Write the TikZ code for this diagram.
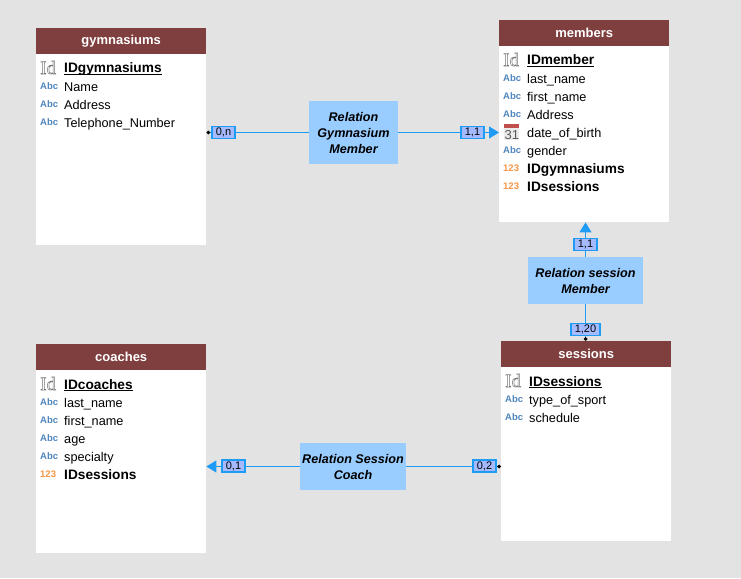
\documentclass[tikz,border=0pt]{standalone}
\usepackage{fontspec}
\setmainfont{Liberation Sans}
\newfontfamily\iconserif{Liberation Serif}
\usetikzlibrary{arrows.meta}
\definecolor{pagegrey}{HTML}{E3E3E3}
\definecolor{headred}{HTML}{7F3F3F}
\definecolor{relblue}{HTML}{99CCFF}
\definecolor{linkblue}{HTML}{1E9BF5}
\definecolor{cardblue}{HTML}{A6BBFF}
\definecolor{abcblue}{HTML}{4F86BD}
\definecolor{numorange}{HTML}{F79646}
\definecolor{calred}{HTML}{C0504D}
\newcommand{\abcicon}{\textcolor{abcblue}{\fontsize{9.5}{10}\selectfont\bfseries Abc}}
\newcommand{\numicon}{\textcolor{numorange}{\fontsize{9.5}{10}\selectfont\bfseries 123}}
\newcommand{\idicon}{\textcolor{black!55}{\fontsize{19}{19}\selectfont\iconserif\special{pdf:code q 1 Tr 0.5 w}Id\special{pdf:code Q}}}
\newcommand{\calicon}{\textcolor{black!65}{\fontsize{13}{13}\selectfont 31}}
\newcommand{\keyname}[1]{\setbox0\hbox{#1}\rlap{\rule[-2pt]{\wd0}{1pt}}\box0}
\begin{document}
\begin{tikzpicture}[
  x=1pt, y=-1pt,
  tablebox/.style={fill=white, anchor=north west, minimum width=170, inner sep=0},
  headbox/.style={fill=headred, text=white, anchor=north, minimum width=170, minimum height=26, inner sep=0, font=\fontsize{13}{15}\selectfont\bfseries},
  rowtext/.style={anchor=base west, inner sep=0, font=\fontsize{12.7}{16}\selectfont},
  keytext/.style={rowtext, font=\fontsize{13.7}{16}\selectfont\bfseries},
  rowicon/.style={anchor=base west, inner sep=0},
  relbox/.style={fill=relblue, align=center, inner sep=0, font=\fontsize{12.6}{16}\selectfont\bfseries\itshape},
  card/.style={draw=linkblue, fill=cardblue, line width=1.2pt, minimum height=12, inner sep=0, minimum width=23, font=\fontsize{11}{12}\selectfont},
  link/.style={draw=linkblue, line width=1.2pt},
  >={Triangle[length=10pt, width=12pt]},
  startdot/.style={{Diamond[length=4pt, width=4pt, black]}-}
]
  \path[use as bounding box, fill=pagegrey] (0,0) rectangle (741,578);

  % tables
  \node[tablebox, minimum height=217] (gymnasiums) at (36,28) {};
  \node[headbox] (gymnasiumshead) at (gymnasiums.north) {gymnasiums};
  \node[tablebox, minimum height=202] (members) at (499,20) {};
  \node[headbox] (membershead) at (members.north) {members};
  \node[tablebox, minimum height=200] (sessions) at (501,341) {};
  \node[headbox] (sessionshead) at (sessions.north) {sessions};
  \node[tablebox, minimum height=209] (coaches) at (36,344) {};
  \node[headbox] (coacheshead) at (coaches.north) {coaches};

  % fields
  \node[rowicon] (gymicon0) at (40,74) {\idicon};
  \node[keytext] (gymrow0) at (64,73) {\keyname{IDgymnasiums}};
  \foreach \i/\y/\txt in {1/91/Name, 2/109/Address, 3/127/Telephone\_Number} {
    \node[rowicon] (gymicon\i) at (40,\y-1.5) {\abcicon};
    \node[rowtext] (gymrow\i) at (64,\y) {\txt};
  }

  \node[rowicon] (memicon0) at (503,66) {\idicon};
  \node[keytext] (memrow0) at (527,65) {\keyname{IDmember}};
  \foreach \i/\y/\txt in {1/83/last\_name, 2/101/first\_name, 3/119/Address, 5/155/gender} {
    \node[rowicon] (memicon\i) at (503,\y-1.5) {\abcicon};
    \node[rowtext] (memrow\i) at (527,\y) {\txt};
  }
  \fill[black!8] (504,124) rectangle (519,140);
  \fill[calred] (504,124) rectangle (519,128);
  \node[rowicon] (memicon4) at (504.5,139) {\calicon};
  \node[rowtext] (memrow4) at (527,137) {date\_of\_birth};
  \foreach \i/\y/\txt in {6/173/IDgymnasiums, 7/191/IDsessions} {
    \node[rowicon] (memicon\i) at (503,\y-1.5) {\numicon};
    \node[keytext] (memrow\i) at (527,\y) {\txt};
  }

  \node[rowicon] (sesicon0) at (505,387) {\idicon};
  \node[keytext] (sesrow0) at (529,386) {\keyname{IDsessions}};
  \foreach \i/\y/\txt in {1/404/type\_of\_sport, 2/422/schedule} {
    \node[rowicon] (sesicon\i) at (505,\y-1.5) {\abcicon};
    \node[rowtext] (sesrow\i) at (529,\y) {\txt};
  }

  \node[rowicon] (coaicon0) at (40,390) {\idicon};
  \node[keytext] (coarow0) at (64,389) {\keyname{IDcoaches}};
  \foreach \i/\y/\txt in {1/407/last\_name, 2/425/first\_name, 3/443/age, 4/461/specialty} {
    \node[rowicon] (coaicon\i) at (40,\y-1.5) {\abcicon};
    \node[rowtext] (coarow\i) at (64,\y) {\txt};
  }
  \node[rowicon] (coaicon5) at (40,477.5) {\numicon};
  \node[keytext] (coarow5) at (64,479) {IDsessions};

  % relations
  \node[relbox, minimum width=89, minimum height=63] (relgym) at (353.5,132.5) {Relation\\Gymnasium\\Member};
  \node[relbox, minimum width=115, minimum height=47] (relsesmem) at (585.5,280.5) {Relation session\\Member};
  \node[relbox, minimum width=106, minimum height=47] (relsescoach) at (353,466.5) {Relation Session\\Coach};

  % links
  \draw[link, startdot] (gymnasiums.east |- relgym) -- (relgym);
  \draw[link, ->] (relgym) -- (members.west |- relgym);
  \draw[link, ->] (relsesmem) -- (relsesmem |- members.south);
  \draw[link, startdot] (relsesmem |- sessions.north) -- (relsesmem);
  \draw[link, ->] (relsescoach) -- (coaches.east |- relsescoach);
  \draw[link, startdot] (sessions.west |- relsescoach) -- (relsescoach);

  % cardinalities
  \node[card] (cardgym) at (223.5,132.5) {0,n};
  \node[card] (cardmem) at (472.5,132.5) {1,1};
  \node[card] (cardsm) at (585.5,244.5) {1,1};
  \node[card, minimum width=29] (cardms) at (585.5,329.5) {1,20};
  \node[card] (cardcoach) at (233.5,466) {0,1};
  \node[card] (cardses) at (484.5,466) {0,2};
\end{tikzpicture}
\end{document}
